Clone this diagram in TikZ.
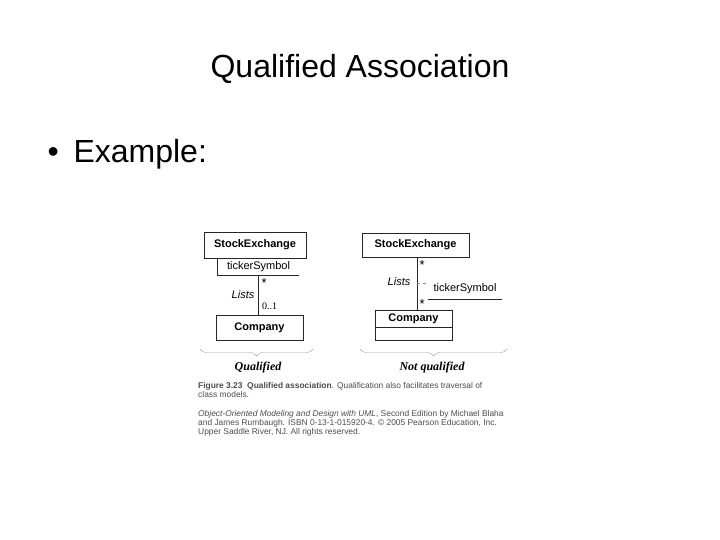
\documentclass[tikz,border=0pt]{standalone}
\usepackage{fontspec}
\setmainfont{Liberation Sans}
\newfontfamily\timesfont{Liberation Serif}
\usetikzlibrary{positioning,decorations.pathreplacing}

\begin{document}
\begin{tikzpicture}[x=1pt,y=-1pt,
    umlbox/.style={draw=black!85,line width=0.7pt,inner sep=0pt,font=\fontsize{11}{13}\selectfont\bfseries},
    umltext/.style={inner sep=0pt,font=\fontsize{11}{13}\selectfont},
    mult/.style={inner sep=0pt,anchor=north west,font=\fontsize{13}{15}\selectfont},
    kind/.style={inner sep=0pt,font=\fontsize{12}{14}\selectfont\timesfont\bfseries\itshape},
    caption/.style={anchor=base west,inner sep=0pt,text=black!70,font=\fontsize{8.4}{9}\selectfont},
    bracket/.style={draw=black!35,line width=0.4pt,decorate,decoration={brace,amplitude=7pt}}]

    \useasboundingbox (0,0) rectangle (720,540);

    % Title and bullet
    \node[anchor=base,font=\fontsize{32}{38}\selectfont] (title) at (360,78) {Qualified Association};
    \node[anchor=base west,font=\fontsize{32}{38}\selectfont] (dot) at (44,163) {\textbullet};
    \node[anchor=base west,font=\fontsize{32}{38}\selectfont] (example) at (70,163) {Example:};

    % Qualified
    \begin{scope}
        \node[umlbox,minimum width=102,minimum height=26] (seL) at (255,245) {StockExchange};
        \node[umltext,minimum width=81,minimum height=17] (qualL) at (258.5,266.5) {tickerSymbol};
        \draw[line width=0.7pt,black!85] (qualL.north west) |- (qualL.south east);
        \node[umlbox,minimum width=87,minimum height=25] (compL) at (259.5,327.5) {Company};
        \draw[line width=0.7pt,black!85] (qualL.south) -- (qualL.south |- compL.north);
        \node[mult] (manyL) at (261.5,278) {*};
        \node[umltext,font=\fontsize{11}{13}\selectfont\itshape] (listsL) at (243,295) {Lists};
        \node[inner sep=0pt,font=\fontsize{10}{12}\selectfont\timesfont] (oneL) at (269.5,306.5) {0..1};
        \draw[bracket] (313,349) -- (200,349);
        \node[kind] (qualified) at (258,368) {Qualified};
    \end{scope}

    % Not qualified
    \begin{scope}
        \node[umlbox,minimum width=107,minimum height=24] (seR) at (415.5,245) {StockExchange};
        \node[umlbox,minimum width=77,minimum height=17] (compR) at (413.5,318.5) {Company};
        \node[draw=black!85,line width=0.7pt,inner sep=0pt,minimum width=77,minimum height=13,below=0pt of compR] (compRb) {};
        \coordinate (jR) at (417,283);
        \draw[line width=0.7pt,black!85] (seR.south -| jR) -- (compR.north -| jR);
        \node[umltext,minimum width=74,minimum height=20] (attrR) at (465,289) {tickerSymbol};
        \draw[line width=0.7pt,black!85] (attrR.south west) -- (attrR.south east);
        \draw[black!45,dashed,line width=0.5pt] (jR) -- (jR -| attrR.west);
        \node[mult] (manyR1) at (419.5,260) {*};
        \node[mult] (manyR2) at (419.5,299) {*};
        \node[umltext,font=\fontsize{11}{13}\selectfont\itshape] (listsR) at (399,282) {Lists};
        \draw[bracket] (507,349) -- (360,349);
        \node[kind] (notqualified) at (432,368) {Not qualified};
    \end{scope}

    % Caption
    \node[caption] (cap1) at (198,388) {\textbf{Figure 3.23\ \ Qualified association}. Qualification also facilitates traversal of};
    \node[caption] (cap2) at (198,397) {class models.};
    \node[caption] (cap3) at (198,416) {\textit{Object-Oriented Modeling and Design with UML}, Second Edition by Michael Blaha};
    \node[caption] (cap4) at (198,425) {and James Rumbaugh. ISBN 0-13-1-015920-4. \textcopyright\ 2005 Pearson Education, Inc.};
    \node[caption] (cap5) at (198,434) {Upper Saddle River, NJ. All rights reserved.};
\end{tikzpicture}
\end{document}
